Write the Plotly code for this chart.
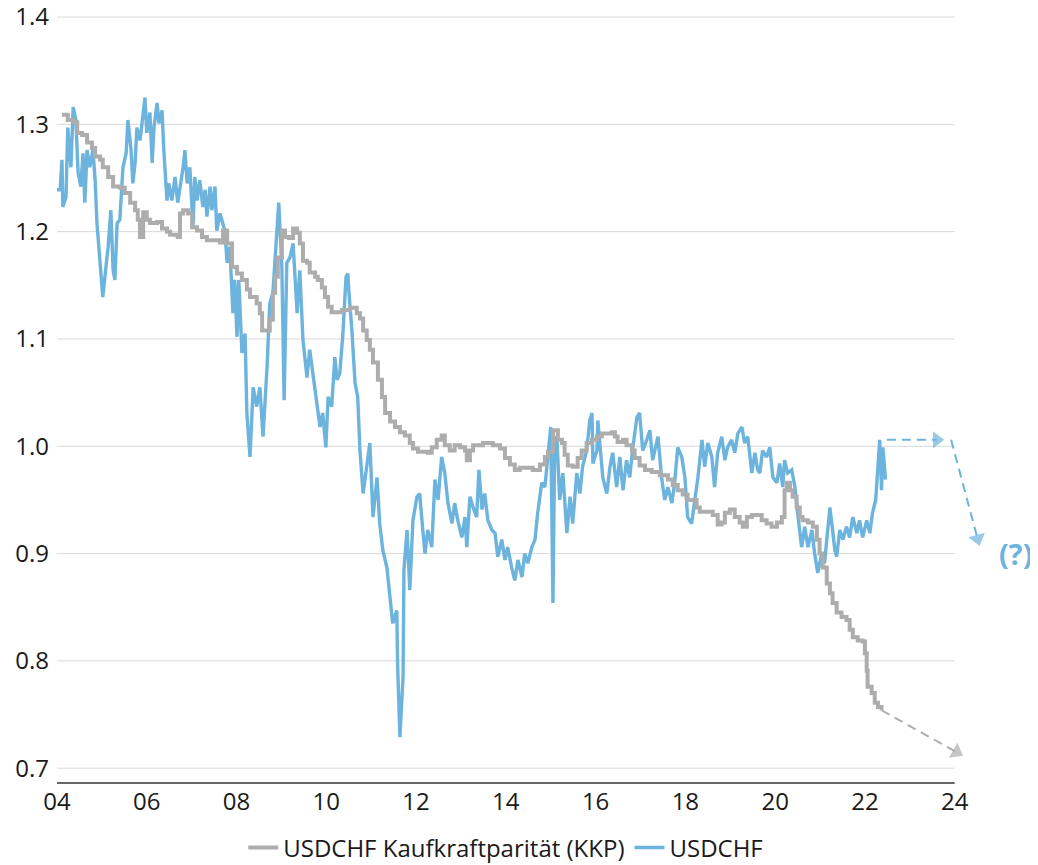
import plotly.graph_objects as go

# ---------------- data ----------------
usdchf_year = [
    2004.00, 2004.07, 2004.11, 2004.13, 2004.20, 2004.24, 2004.31, 2004.36, 2004.42, 2004.47, 2004.53, 2004.58, 2004.62, 2004.67, 2004.73, 2004.80, 2004.85, 2004.89, 2004.96,
    2005.02, 2005.09, 2005.14, 2005.20, 2005.25, 2005.29, 2005.34, 2005.40, 2005.47, 2005.54, 2005.58, 2005.65, 2005.69, 2005.74, 2005.78, 2005.85, 2005.92, 2005.96,
    2006.00, 2006.07, 2006.12, 2006.16, 2006.23, 2006.27, 2006.34, 2006.38, 2006.45, 2006.49, 2006.56, 2006.63, 2006.69, 2006.76, 2006.81, 2006.85, 2006.90, 2006.96,
    2007.03, 2007.07, 2007.12, 2007.18, 2007.25, 2007.30, 2007.34, 2007.41, 2007.45, 2007.52, 2007.56, 2007.63, 2007.70, 2007.74, 2007.79, 2007.85, 2007.92, 2007.96,
    2008.01, 2008.05, 2008.12, 2008.19, 2008.23, 2008.30, 2008.37, 2008.45, 2008.52, 2008.59, 2008.68, 2008.74, 2008.81, 2008.88, 2008.94,
    2009.01, 2009.06, 2009.12, 2009.19, 2009.26, 2009.35, 2009.41, 2009.48, 2009.57, 2009.63, 2009.70, 2009.79, 2009.86, 2009.92, 2009.99,
    2010.04, 2010.12, 2010.19, 2010.24, 2010.30, 2010.37, 2010.44, 2010.48, 2010.50, 2010.57, 2010.64, 2010.70, 2010.75, 2010.82, 2010.90, 2010.97,
    2011.04, 2011.13, 2011.19, 2011.26, 2011.35, 2011.42, 2011.48, 2011.57, 2011.59, 2011.64, 2011.71, 2011.73, 2011.80, 2011.86, 2011.93,
    2012.02, 2012.08, 2012.15, 2012.20, 2012.26, 2012.35, 2012.42, 2012.49, 2012.57, 2012.64, 2012.71, 2012.80, 2012.86, 2012.93,
    2013.02, 2013.09, 2013.13, 2013.20, 2013.27, 2013.35, 2013.40, 2013.47, 2013.53, 2013.60, 2013.69, 2013.76, 2013.82, 2013.91, 2013.98,
    2014.04, 2014.13, 2014.20, 2014.27, 2014.36, 2014.42, 2014.49, 2014.58, 2014.65, 2014.71, 2014.80, 2014.87, 2014.94,
    2015.00, 2015.05, 2015.09, 2015.14, 2015.20, 2015.27, 2015.36, 2015.43, 2015.49, 2015.58, 2015.65, 2015.71, 2015.80, 2015.87, 2015.92, 2015.94,
    2016.03, 2016.05, 2016.09, 2016.16, 2016.25, 2016.32, 2016.38, 2016.47, 2016.54, 2016.61, 2016.69, 2016.76, 2016.83, 2016.92, 2016.98,
    2017.05, 2017.14, 2017.21, 2017.27, 2017.32, 2017.39, 2017.47, 2017.54, 2017.61, 2017.70, 2017.76, 2017.83, 2017.92, 2017.99,
    2018.05, 2018.14, 2018.21, 2018.28, 2018.37, 2018.43, 2018.50, 2018.59, 2018.65, 2018.72, 2018.81, 2018.88, 2018.94,
    2019.03, 2019.10, 2019.17, 2019.26, 2019.32, 2019.39, 2019.48, 2019.55, 2019.61, 2019.66, 2019.72, 2019.81, 2019.88, 2019.95,
    2020.04, 2020.10, 2020.17, 2020.21, 2020.28, 2020.37, 2020.44, 2020.50, 2020.59, 2020.66, 2020.73, 2020.82, 2020.88, 2020.95,
    2021.04, 2021.10, 2021.15, 2021.22, 2021.28, 2021.33, 2021.37, 2021.44, 2021.51, 2021.59, 2021.66, 2021.73, 2021.82, 2021.88, 2021.95,
    2022.04, 2022.11, 2022.17, 2022.24, 2022.29, 2022.33, 2022.37, 2022.40, 2022.46,
]
usdchf = [
    1.239, 1.239, 1.267, 1.223, 1.232, 1.297, 1.260, 1.316, 1.304, 1.255, 1.242, 1.273, 1.227, 1.276, 1.260, 1.276, 1.248, 1.208, 1.171,
    1.139, 1.167, 1.186, 1.220, 1.164, 1.155, 1.208, 1.211, 1.260, 1.273, 1.304, 1.276, 1.245, 1.264, 1.297, 1.285, 1.313, 1.325,
    1.292, 1.311, 1.264, 1.297, 1.320, 1.301, 1.313, 1.276, 1.229, 1.245, 1.229, 1.251, 1.227, 1.245, 1.260, 1.276, 1.245, 1.260,
    1.204, 1.251, 1.229, 1.248, 1.223, 1.239, 1.214, 1.242, 1.220, 1.242, 1.201, 1.217, 1.208, 1.201, 1.171, 1.186, 1.124, 1.155,
    1.102, 1.155, 1.087, 1.105, 1.031, 0.990, 1.055, 1.037, 1.055, 1.009, 1.074, 1.133, 1.143, 1.192, 1.227,
    1.167, 1.043, 1.171, 1.176, 1.189, 1.124, 1.164, 1.099, 1.064, 1.090, 1.068, 1.037, 1.018, 1.031, 0.999,
    1.046, 1.037, 1.083, 1.062, 1.068, 1.105, 1.158, 1.161, 1.146, 1.108, 1.059, 1.046, 0.996, 0.956, 0.981, 1.003,
    0.934, 0.971, 0.928, 0.903, 0.887, 0.857, 0.835, 0.847, 0.794, 0.729, 0.785, 0.885, 0.922, 0.866, 0.931,
    0.953, 0.956, 0.922, 0.900, 0.922, 0.906, 0.969, 0.950, 0.990, 0.975, 0.947, 0.928, 0.947, 0.931,
    0.915, 0.934, 0.906, 0.953, 0.943, 0.934, 0.978, 0.941, 0.956, 0.931, 0.922, 0.919, 0.897, 0.913, 0.894,
    0.906, 0.887, 0.875, 0.894, 0.878, 0.900, 0.891, 0.906, 0.913, 0.938, 0.966, 0.962, 0.994,
    1.018, 0.854, 1.009, 1.006, 0.950, 0.975, 0.919, 0.953, 0.928, 0.975, 0.956, 0.981, 0.996, 1.024, 1.031, 0.984,
    0.996, 1.024, 1.003, 0.971, 0.956, 0.981, 0.994, 0.962, 0.990, 0.959, 0.987, 0.971, 0.999, 1.027, 1.031,
    0.996, 1.006, 1.015, 0.987, 0.996, 1.009, 0.971, 0.950, 0.962, 0.947, 0.966, 0.999, 0.990, 0.971,
    0.934, 0.928, 0.950, 0.971, 1.006, 0.981, 1.003, 0.990, 0.962, 0.994, 1.009, 0.987, 0.999,
    1.006, 0.994, 1.012, 1.018, 1.003, 1.009, 0.975, 0.994, 0.978, 0.975, 0.996, 0.990, 0.999, 0.971,
    0.966, 0.984, 0.962, 0.987, 0.975, 0.978, 0.962, 0.938, 0.906, 0.925, 0.906, 0.922, 0.900, 0.882,
    0.900, 0.891, 0.913, 0.943, 0.922, 0.903, 0.897, 0.922, 0.913, 0.925, 0.915, 0.934, 0.919, 0.931, 0.915,
    0.931, 0.919, 0.938, 0.950, 0.978, 1.006, 0.959, 0.999, 0.969,
]

kkp_year = [
    2004.11, 2004.24, 2004.36, 2004.45, 2004.56, 2004.67, 2004.78, 2004.85, 2004.96,
    2005.02, 2005.14, 2005.25, 2005.40, 2005.51, 2005.63, 2005.74, 2005.80, 2005.85, 2005.92,
    2006.00, 2006.07, 2006.23, 2006.34, 2006.45, 2006.52, 2006.69, 2006.74, 2006.81, 2006.92,
    2007.01, 2007.12, 2007.23, 2007.34, 2007.47, 2007.63, 2007.70, 2007.79, 2007.90,
    2008.01, 2008.12, 2008.23, 2008.30, 2008.45, 2008.52, 2008.57, 2008.70, 2008.74, 2008.81, 2008.86, 2008.92,
    2009.01, 2009.08, 2009.17, 2009.26, 2009.35, 2009.41, 2009.48, 2009.57, 2009.63, 2009.75, 2009.81, 2009.90, 2009.97,
    2010.04, 2010.12, 2010.35, 2010.53, 2010.68, 2010.75, 2010.82, 2010.90, 2010.97,
    2011.04, 2011.15, 2011.24, 2011.31, 2011.42, 2011.53, 2011.64, 2011.75, 2011.86, 2011.93,
    2012.04, 2012.15, 2012.26, 2012.35, 2012.46, 2012.57, 2012.64, 2012.75, 2012.86, 2012.98,
    2013.09, 2013.13, 2013.20, 2013.27, 2013.49, 2013.71, 2013.87, 2013.98,
    2014.09, 2014.20, 2014.31, 2014.60, 2014.76, 2014.87, 2014.94,
    2015.05, 2015.16, 2015.25, 2015.31, 2015.38, 2015.49, 2015.60, 2015.69, 2015.80, 2015.92,
    2016.03, 2016.14, 2016.36, 2016.43, 2016.49, 2016.61, 2016.69, 2016.81, 2016.87, 2016.98,
    2017.10, 2017.25, 2017.43, 2017.61, 2017.72, 2017.83, 2017.94,
    2018.05, 2018.16, 2018.25, 2018.32, 2018.61, 2018.72, 2018.81, 2018.88, 2018.99,
    2019.10, 2019.21, 2019.28, 2019.37, 2019.48, 2019.70, 2019.81, 2019.92,
    2020.04, 2020.15, 2020.21, 2020.26, 2020.33, 2020.39, 2020.48, 2020.55, 2020.61, 2020.73, 2020.84, 2020.93, 2020.99,
    2021.06, 2021.15, 2021.22, 2021.28, 2021.37, 2021.48, 2021.59, 2021.66, 2021.73, 2021.84, 2021.95,
    2022.00, 2022.04, 2022.06, 2022.15, 2022.22, 2022.29, 2022.37,
]
kkp = [
    1.309, 1.304, 1.302, 1.292, 1.290, 1.283, 1.278, 1.270, 1.267,
    1.260, 1.251, 1.242, 1.241, 1.236, 1.227, 1.220, 1.211, 1.195, 1.218,
    1.211, 1.208, 1.209, 1.203, 1.200, 1.197, 1.195, 1.217, 1.220, 1.217,
    1.204, 1.201, 1.195, 1.192, 1.192, 1.190, 1.201, 1.189, 1.167,
    1.161, 1.155, 1.146, 1.139, 1.133, 1.124, 1.108, 1.108, 1.118, 1.143, 1.158, 1.176,
    1.201, 1.195, 1.194, 1.203, 1.199, 1.189, 1.173, 1.171, 1.162, 1.158, 1.155, 1.148, 1.139,
    1.130, 1.125, 1.127, 1.129, 1.124, 1.119, 1.108, 1.099, 1.090,
    1.078, 1.062, 1.046, 1.031, 1.023, 1.018, 1.013, 1.010, 1.003, 0.998,
    0.995, 0.995, 0.994, 0.999, 1.006, 1.010, 1.001, 0.996, 1.001, 0.999,
    0.996, 0.987, 0.996, 1.001, 1.003, 1.001, 0.998, 0.989,
    0.983, 0.978, 0.980, 0.978, 0.983, 0.990, 0.995,
    1.015, 1.006, 1.003, 0.992, 0.982, 0.981, 0.989, 0.996, 1.003, 1.006,
    1.009, 1.012, 1.013, 1.009, 1.004, 1.006, 1.001, 0.996, 0.989, 0.982,
    0.978, 0.976, 0.973, 0.969, 0.964, 0.959, 0.955,
    0.950, 0.950, 0.943, 0.939, 0.936, 0.927, 0.929, 0.938, 0.941,
    0.934, 0.929, 0.925, 0.934, 0.936, 0.931, 0.928, 0.925,
    0.929, 0.934, 0.959, 0.966, 0.959, 0.953, 0.943, 0.934, 0.931, 0.929, 0.925, 0.913, 0.900,
    0.887, 0.872, 0.863, 0.854, 0.845, 0.841, 0.838, 0.829, 0.822, 0.819, 0.818,
    0.807, 0.791, 0.776, 0.770, 0.761, 0.757, 0.754,
]
assert len(usdchf_year) == len(usdchf)
assert len(kkp_year) == len(kkp)

# forecast arrows (start point, arrowhead point)
fc_blue_flat_year = [2022.49, 2023.60]
fc_blue_flat_val = [1.006, 1.006]
fc_blue_down_year = [2023.92, 2024.51]
fc_blue_down_val = [1.006, 0.914]
fc_gray_year = [2022.37, 2024.04]
fc_gray_val = [0.754, 0.715]
question_label = "(?)"
question_pos = (2025.36, 0.900)

y_ticks = [0.7, 0.8, 0.9, 1.0, 1.1, 1.2, 1.3, 1.4]
y_labels = ["0.7", "0.8", "0.9", "1.0", "1.1", "1.2", "1.3", "1.4"]
x_ticks = [2004, 2006, 2008, 2010, 2012, 2014, 2016, 2018, 2020, 2022, 2024]
x_labels = ["04", "06", "08", "10", "12", "14", "16", "18", "20", "22", "24"]

name_kkp = "USDCHF Kaufkraftparität (KKP)"
name_usd = "USDCHF"

# ---------------- styling ----------------
BLUE = "#6cb4de"
GRAY = "#adadad"
GRID = "#d9d9d9"
FONT = "Open Sans"
TXT = "#1a1a1a"

fig = go.Figure()

fig.add_trace(go.Scatter(x=usdchf_year, y=usdchf, mode="lines", name=name_usd,
                         line=dict(color=BLUE, width=3.4), legendrank=2))
fig.add_trace(go.Scatter(x=kkp_year, y=kkp, mode="lines", name=name_kkp,
                         line=dict(color=GRAY, width=4, shape="hv"), legendrank=1))

for xs, ys, col in [(fc_blue_flat_year, fc_blue_flat_val, BLUE),
                    (fc_blue_down_year, fc_blue_down_val, BLUE),
                    (fc_gray_year, fc_gray_val, GRAY)]:
    fig.add_trace(go.Scatter(
        x=xs, y=ys, mode="lines+markers", showlegend=False, hoverinfo="skip",
        line=dict(color=col, width=2, dash="9px,6px"),
        marker=dict(symbol="triangle-up", size=[0, 15], color=col,
                    angleref="previous", line=dict(width=0)),
    ))

# horizontal gridlines only across 2004-2024
for v in y_ticks:
    fig.add_shape(type="line", xref="x", yref="y", x0=x_ticks[0], x1=x_ticks[-1],
                  y0=v, y1=v, line=dict(color=GRID, width=1), layer="below")
# bottom axis line
fig.add_shape(type="line", xref="x", yref="paper", x0=x_ticks[0], x1=x_ticks[-1],
              y0=0, y1=0, line=dict(color="#333333", width=1.5), layer="above")

fig.add_annotation(x=question_pos[0], y=question_pos[1], text="<b>" + question_label + "</b>",
                   showarrow=False, font=dict(family=FONT, size=29, color=BLUE),
                   xanchor="center", yanchor="middle")

# page has an 8px body margin: figure occupies page 8..1038 x 8..865
fig.update_layout(
    width=1030, height=857,
    margin=dict(l=49, r=16, t=7, b=82, autoexpand=False),
    paper_bgcolor="white", plot_bgcolor="white",
    font=dict(family=FONT, size=24, color=TXT),
    showlegend=True,
    legend=dict(orientation="h", x=0.465, xanchor="center", y=-0.0846, yanchor="middle",
                font=dict(size=24, color=TXT), itemwidth=30, tracegroupgap=0),
    xaxis=dict(range=[2004, 2025.5], showgrid=False, zeroline=False, showline=False,
               tickmode="array", tickvals=x_ticks, ticktext=x_labels, ticks="",
               ticklabelstandoff=2, ticklabeloverflow="allow", automargin=False,
               fixedrange=True),
    yaxis=dict(range=[0.6862, 1.4019],
               showgrid=False, zeroline=False, showline=False,
               tickmode="array", tickvals=y_ticks, ticktext=y_labels, ticks="",
               ticklabelstandoff=7, ticklabeloverflow="allow", automargin=False,
               fixedrange=True),
)

fig.write_html("out.html")
